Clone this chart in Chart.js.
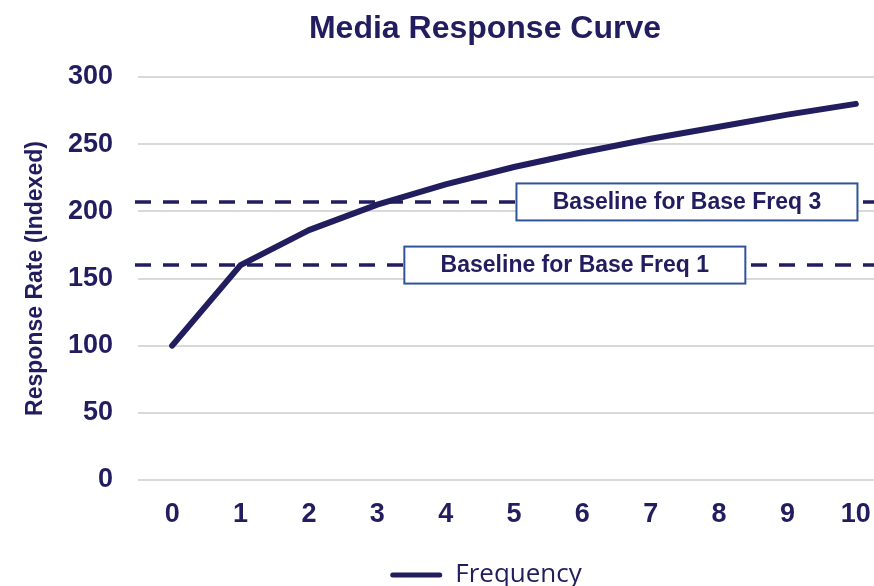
<!DOCTYPE html>
<html>
<head>
<meta charset="utf-8">
<script src="https://cdn.jsdelivr.net/npm/chart.js@4.4.1/dist/chart.umd.min.js"></script>
<style>
	html, body { margin: 0; padding: 0; background: #fff; overflow: hidden; }
	#wrap { width: 874px; height: 586px; overflow: hidden; position: relative; }
	#box { width: 890px; height: 586px; position: absolute; left: 0; top: 0; }
</style>
</head>
<body>
<div id="wrap"><div id="box"><canvas id="myChart"></canvas></div></div>
<script>
const frequency = ['0', '1', '2', '3', '4', '5', '6', '7', '8', '9', '10'];
const responseRate = [100, 160, 186, 205, 220, 233, 244, 254, 263, 272, 280];
const baselineValues = [207, 160];
const baselineLabels = ['Baseline for Base Freq 3', 'Baseline for Base Freq 1'];
const yTicks = [0, 50, 100, 150, 200, 250, 300];

const NAVY = '#211D5F';
const FONT = '"Liberation Sans", Arial, sans-serif';

// where the label boxes sit (category units along x)
const boxCentersX = [7.53, 5.89];

const baselinePlugin = {
	id: 'baselines',
	beforeDatasetsDraw(chart) {
		const { ctx, chartArea, scales } = chart;
		ctx.save();
		ctx.strokeStyle = NAVY;
		ctx.lineWidth = 3.5;
		ctx.setLineDash([16, 12]);
		baselineValues.forEach(v => {
			const y = scales.y.getPixelForValue(v);
			ctx.beginPath();
			ctx.moveTo(chartArea.left - 3, y);
			ctx.lineTo(chart.width, y);
			ctx.stroke();
		});
		ctx.setLineDash([]);
		ctx.font = 'bold 23px ' + FONT;
		ctx.textAlign = 'center';
		ctx.textBaseline = 'middle';
		baselineValues.forEach((v, i) => {
			const y = scales.y.getPixelForValue(v);
			const x0 = scales.x.getPixelForValue(0);
			const cx = x0 + boxCentersX[i] * (scales.x.getPixelForValue(1) - x0);
			const w = 341, h = 37;
			ctx.fillStyle = '#fff';
			ctx.fillRect(cx - w / 2, y - h / 2, w, h);
			ctx.strokeStyle = '#2F5597';
			ctx.lineWidth = 2;
			ctx.strokeRect(cx - w / 2, y - h / 2, w, h);
			ctx.fillStyle = NAVY;
			ctx.fillText(baselineLabels[i], cx, y + 1);
		});
		ctx.restore();
	}
};

const shiftPlugin = {
	id: 'shiftBoxes',
	afterLayout(chart) {
		const t = chart.titleBlock;
		const dt = 485 - (t.left + t.right) / 2;
		t.left += dt; t.right += dt;
		const l = chart.legend;
		const dl = 486 - (l.left + l.right) / 2;
		l.left += dl; l.right += dl;
	}
};

const ctx = document.getElementById('myChart');
const myChart = new Chart(ctx, {
	type: 'line',
	data: {
		labels: frequency,
		datasets: [{
			label: 'Frequency',
			data: responseRate,
			borderColor: NAVY,
			backgroundColor: NAVY,
			borderWidth: 6,
			borderCapStyle: 'round',
			borderJoinStyle: 'round',
			pointRadius: 0,
			tension: 0
		}]
	},
	options: {
		responsive: true,
		maintainAspectRatio: false,
		animation: false,
		layout: { padding: { left: 0, right: 0, top: 0, bottom: -12 } },
		plugins: {
			title: {
				display: true,
				text: 'Media Response Curve',
				color: NAVY,
				font: { family: FONT, size: 32, weight: 'bold' },
				padding: { top: 10, bottom: 28.6 }
			},
			legend: {
				position: 'bottom',
				labels: {
					color: NAVY,
					font: { family: '"Open Sans", sans-serif', size: 26 },
					boxWidth: 52,
					boxHeight: 5,
					padding: 0,
					generateLabels: (chart) => chart.data.datasets.map((ds, i) => ({
						text: ds.label,
						fillStyle: NAVY,
						strokeStyle: NAVY,
						lineWidth: 0,
						borderRadius: 2.5,
						fontColor: NAVY,
						datasetIndex: i
					}))
				}
			},
			tooltip: { enabled: false }
		},
		scales: {
			x: {
				offset: true,
				grid: { display: false, offset: true },
				border: { display: false },
				ticks: { color: NAVY, font: { family: FONT, size: 27, weight: 'bold' }, padding: 10 },
				afterFit: (scale) => { scale.height = 82; }
			},
			y: {
				min: 0,
				max: 300,
				afterBuildTicks: (scale) => { scale.ticks = yTicks.map(v => ({ value: v })); },
				grid: { color: '#D9D9D9', lineWidth: 2, drawTicks: false },
				border: { display: false },
				ticks: { color: NAVY, font: { family: FONT, size: 27, weight: 'bold' }, padding: 25 },
				title: {
					display: true,
					text: 'Response Rate (Indexed)',
					color: NAVY,
					font: { family: FONT, size: 23, weight: 'bold' },
					padding: { top: 22, bottom: 0 }
				},
				afterFit: (scale) => { scale.width = 138; }
			}
		}
	},
	plugins: [baselinePlugin, shiftPlugin]
});
</script>
</body>
</html>
